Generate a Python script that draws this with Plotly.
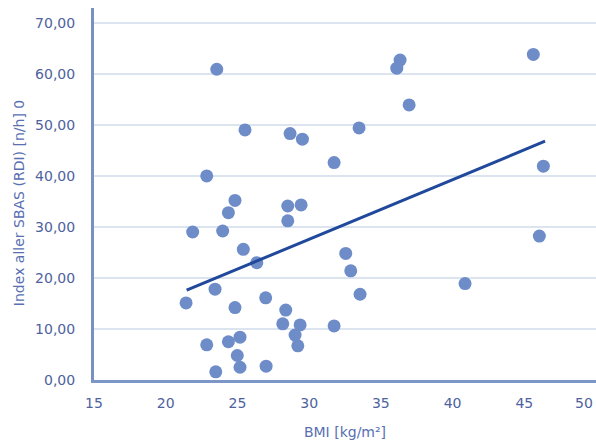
import plotly.graph_objects as go

bmi = [23.56, 25.53, 28.67, 29.53, 22.86, 24.83, 24.37, 28.51, 29.44, 28.51,
       21.88, 23.97, 25.41, 26.35, 23.44, 21.42, 24.83, 26.97, 28.37, 28.16,
       29.37, 29.02, 29.21, 22.86, 24.37, 25.18, 24.99, 25.18, 23.49, 27.0,
       36.34, 36.11, 36.97, 33.48, 31.74, 32.55, 32.90, 33.55, 31.74,
       45.63, 46.33, 46.05, 40.87]
rdi = [60.9, 49.0, 48.3, 47.2, 40.0, 35.2, 32.8, 34.1, 34.3, 31.2,
       29.0, 29.2, 25.6, 23.0, 17.8, 15.1, 14.2, 16.1, 13.7, 11.0,
       10.8, 8.8, 6.7, 6.9, 7.5, 8.4, 4.8, 2.5, 1.6, 2.7,
       62.7, 61.1, 53.9, 49.4, 42.6, 24.8, 21.4, 16.8, 10.6,
       63.8, 41.9, 28.2, 18.9]
trend_x = [21.46, 46.45]
trend_y = [17.6, 46.8]

x_ticks = [15, 20, 25, 30, 35, 40, 45, 50]
y_ticks = [0, 10, 20, 30, 40, 50, 60, 70]

font_family = "DejaVu Sans, Verdana, sans-serif"
tick_color = "rgb(78,98,158)"
title_color = "rgb(88,112,178)"

# last x tick label sits at the page edge; draw it slightly inset so it stays visible
x_ticktext = [str(v) for v in x_ticks[:-1]] + [""]

fig = go.Figure()
fig.add_trace(go.Scatter(
    x=bmi, y=rdi, mode="markers",
    marker=dict(size=13, color="rgb(110,140,200)", line=dict(width=0)),
    showlegend=False, hoverinfo="x+y"))
fig.add_trace(go.Scatter(
    x=trend_x, y=trend_y, mode="lines",
    line=dict(color="rgb(32,72,155)", width=3),
    showlegend=False, hoverinfo="skip"))

fig.update_layout(
    width=596, height=445,
    margin=dict(l=94, r=0, t=8, b=65, autoexpand=False),
    paper_bgcolor="white", plot_bgcolor="white",
    separators=", ",
    font=dict(family=font_family, size=14, color=tick_color),
    xaxis=dict(
        range=[15, 50], tickvals=x_ticks, ticktext=x_ticktext,
        showgrid=False, zeroline=False, automargin=False,
        showline=True, linecolor="rgb(125,150,200)", linewidth=3,
        ticks="outside", ticklen=8, tickcolor="rgba(0,0,0,0)",
        tickfont=dict(family=font_family, size=14, color=tick_color),
        title=dict(text="BMI [kg/m²]", standoff=18,
                   font=dict(family=font_family, size=14, color=title_color)),
    ),
    yaxis=dict(
        range=[0, 72.9], tickvals=y_ticks, tickformat=".2f",
        showgrid=True, gridcolor="rgb(220,228,240)", gridwidth=2,
        zeroline=False, automargin=False,
        showline=True, linecolor="rgb(120,145,195)", linewidth=3,
        ticks="outside", ticklen=13, tickcolor="rgba(0,0,0,0)",
        tickfont=dict(family=font_family, size=14, color=tick_color),
    ),
    annotations=[
        dict(text="Index aller SBAS (RDI) [n/h] 0", textangle=-90,
             xref="paper", yref="paper", x=-0.149, y=0.476,
             xanchor="center", yanchor="middle", showarrow=False,
             font=dict(family=font_family, size=14, color=title_color)),
        dict(text=str(x_ticks[-1]), xref="paper", yref="paper",
             x=1.0, y=0, xanchor="right", yanchor="middle", yshift=-23,
             xshift=-1, showarrow=False,
             font=dict(family=font_family, size=14, color=tick_color)),
    ],
)

fig.write_html("out.html", config={"displayModeBar": False},
               post_script="document.body.style.margin='0';")
